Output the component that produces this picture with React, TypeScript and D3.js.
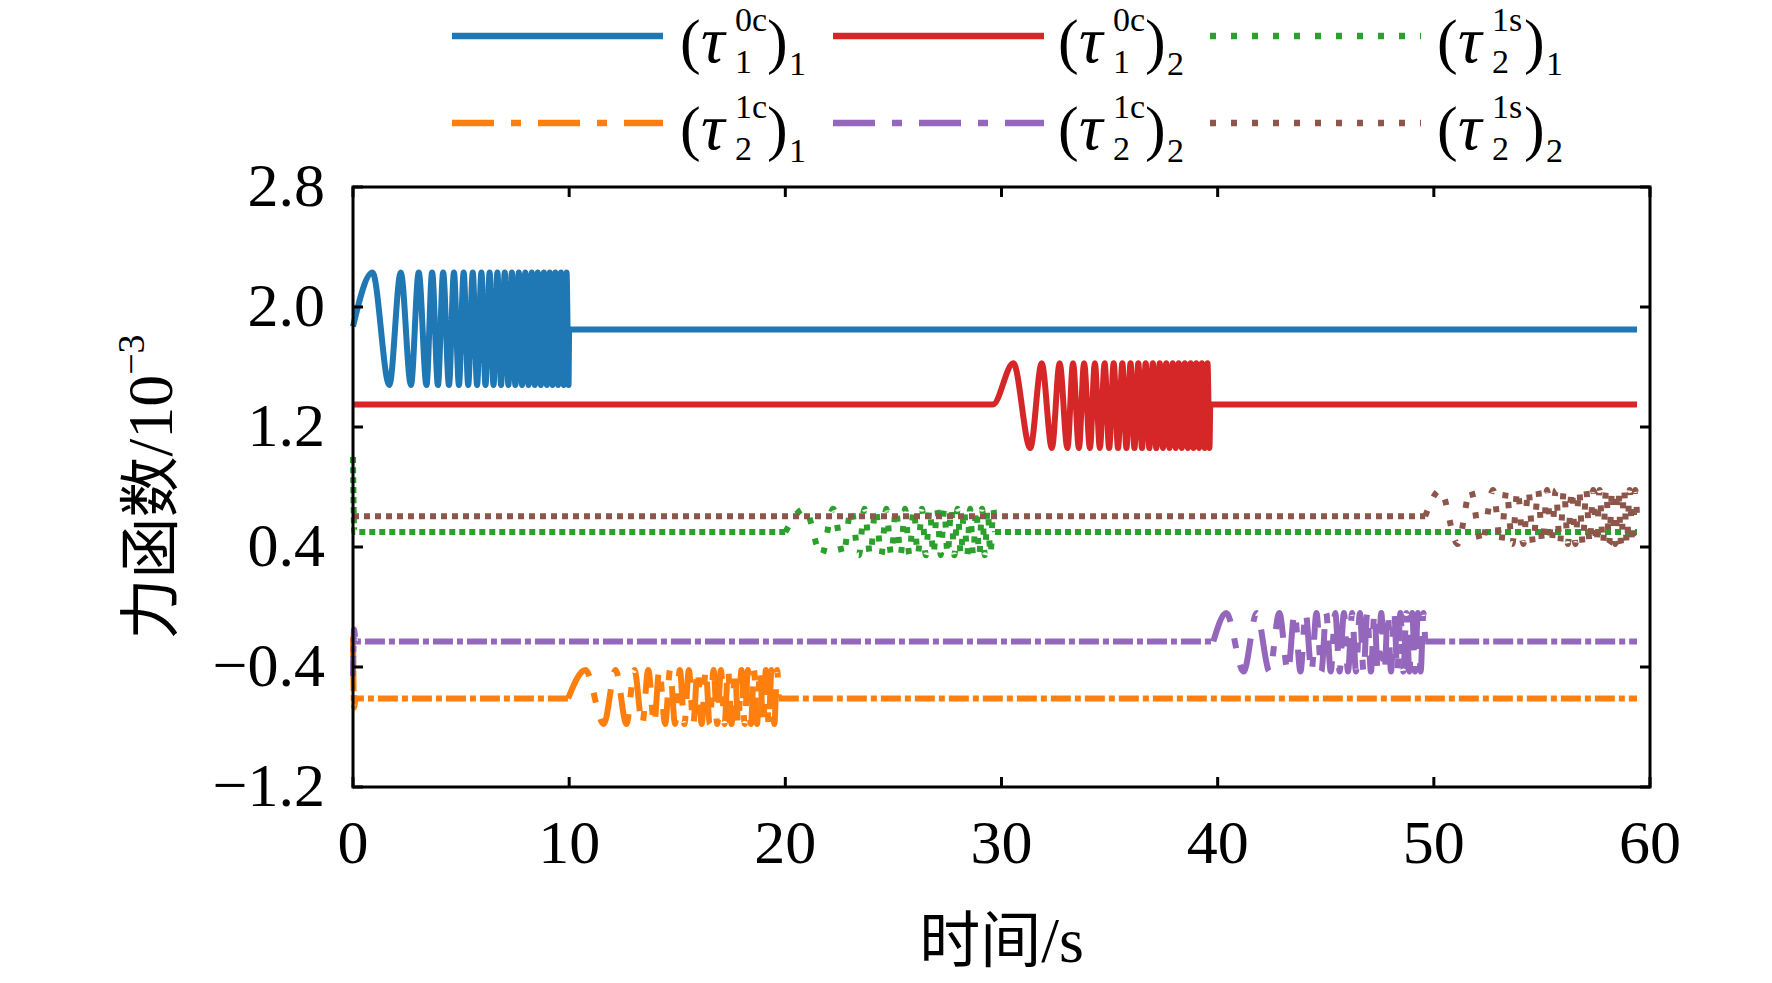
import { useMemo } from "react";
import * as d3 from "d3";

type Pt = [number, number];

const xTicks = [0, 10, 20, 30, 40, 50, 60];
const yTicks = [-1.2, -0.4, 0.4, 1.2, 2.0, 2.8];
const yTickLabels = ["\u22121.2", "\u22120.4", "0.4", "1.2", "2.0", "2.8"];

// (tau_1^0c)_1 : chirp 0-10 s
const blueData: Pt[] = [
  [0, 1.87], [0.9, 2.23], [1.68, 1.48], [2.21, 2.23], [2.68, 1.48], [3.04, 2.23], [3.4, 1.48],
  [3.66, 2.23], [3.93, 1.48], [4.17, 2.23], [4.44, 1.48], [4.67, 2.23], [4.9, 1.48], [5.12, 2.23],
  [5.33, 1.48], [5.54, 2.23], [5.74, 1.48], [5.94, 2.23], [6.13, 1.48], [6.32, 2.23], [6.5, 1.48],
  [6.68, 2.23], [6.85, 1.48], [7.02, 2.23], [7.19, 1.48], [7.35, 2.23], [7.51, 1.48], [7.67, 2.23],
  [7.82, 1.48], [7.97, 2.23], [8.12, 1.48], [8.27, 2.23], [8.41, 1.48], [8.55, 2.23], [8.69, 1.48],
  [8.83, 2.23], [8.97, 1.48], [9.1, 2.23], [9.23, 1.48], [9.36, 2.23], [9.49, 1.48], [9.62, 2.23],
  [9.75, 1.48], [9.88, 2.23], [9.97, 1.48], [10.0, 1.85], [59.4, 1.85],
];

// (tau_2^1c)_1 : chirp 10-20 s
const orangeData: Pt[] = [
  [0, -0.2], [0.05, -0.67], [0.12, -0.61], [9.95, -0.61], [10.75, -0.42], [11.6, -0.78],
  [12.15, -0.42], [12.65, -0.78], [13.02, -0.42], [13.38, -0.78], [13.66, -0.42], [13.93, -0.78],
  [14.17, -0.42], [14.44, -0.78], [14.67, -0.42], [14.9, -0.78], [15.12, -0.42], [15.33, -0.78],
  [15.54, -0.42], [15.74, -0.78], [15.94, -0.42], [16.13, -0.78], [16.32, -0.42], [16.5, -0.78],
  [16.68, -0.42], [16.85, -0.78], [17.02, -0.42], [17.19, -0.78], [17.35, -0.42], [17.51, -0.78],
  [17.67, -0.42], [17.82, -0.78], [17.97, -0.42], [18.12, -0.78], [18.27, -0.42], [18.41, -0.78],
  [18.55, -0.42], [18.69, -0.78], [18.83, -0.42], [18.97, -0.78], [19.1, -0.42], [19.23, -0.78],
  [19.36, -0.42], [19.49, -0.78], [19.62, -0.42], [19.7, -0.61], [59.4, -0.61],
];

// (tau_1^0c)_2 : chirp 30-40 s
const redData: Pt[] = [
  [0, 1.35], [29.6, 1.35], [30.55, 1.625], [31.33, 1.06], [31.86, 1.625], [32.33, 1.06],
  [32.69, 1.625], [33.05, 1.06], [33.31, 1.625], [33.58, 1.06], [33.82, 1.625], [34.09, 1.06],
  [34.32, 1.625], [34.55, 1.06], [34.77, 1.625], [34.98, 1.06], [35.19, 1.625], [35.39, 1.06],
  [35.59, 1.625], [35.78, 1.06], [35.97, 1.625], [36.15, 1.06], [36.33, 1.625], [36.5, 1.06],
  [36.67, 1.625], [36.84, 1.06], [37.0, 1.625], [37.16, 1.06], [37.32, 1.625], [37.47, 1.06],
  [37.62, 1.625], [37.77, 1.06], [37.92, 1.625], [38.06, 1.06], [38.2, 1.625], [38.34, 1.06],
  [38.48, 1.625], [38.62, 1.06], [38.75, 1.625], [38.88, 1.06], [39.01, 1.625], [39.14, 1.06],
  [39.27, 1.625], [39.4, 1.06], [39.53, 1.625], [39.62, 1.06], [39.66, 1.35], [59.4, 1.35],
];

// (tau_2^1c)_2 : chirp 40-50 s
const purpleData: Pt[] = [
  [0, -0.46], [0.05, -0.15], [0.12, -0.23], [39.8, -0.23], [40.4, -0.04], [41.2, -0.43],
  [41.8, -0.04], [42.4, -0.43], [42.85, -0.04], [43.25, -0.43], [43.56, -0.04], [43.83, -0.43],
  [44.07, -0.04], [44.34, -0.43], [44.57, -0.04], [44.8, -0.43], [45.02, -0.04], [45.23, -0.43],
  [45.44, -0.04], [45.64, -0.43], [45.84, -0.04], [46.03, -0.43], [46.22, -0.04], [46.4, -0.43],
  [46.58, -0.04], [46.75, -0.43], [46.92, -0.04], [47.09, -0.43], [47.25, -0.04], [47.41, -0.43],
  [47.57, -0.04], [47.72, -0.43], [47.87, -0.04], [48.02, -0.43], [48.17, -0.04], [48.31, -0.43],
  [48.45, -0.04], [48.59, -0.43], [48.73, -0.04], [48.87, -0.43], [49.0, -0.04], [49.13, -0.43],
  [49.26, -0.04], [49.39, -0.43], [49.52, -0.04], [49.6, -0.23], [59.4, -0.23],
];

// (tau_2^1s)_1 : chirp 20-30 s
const greenData: Pt[] = [
  [0, 1.0], [0.06, 0.5], [20.0, 0.5], [20.9, 0.655], [21.68, 0.345], [22.21, 0.655], [22.68, 0.345],
  [23.04, 0.655], [23.4, 0.345], [23.66, 0.655], [23.93, 0.345], [24.17, 0.655], [24.44, 0.345],
  [24.67, 0.655], [24.9, 0.345], [25.12, 0.655], [25.33, 0.345], [25.54, 0.655], [25.74, 0.345],
  [25.94, 0.655], [26.13, 0.345], [26.32, 0.655], [26.5, 0.345], [26.68, 0.655], [26.85, 0.345],
  [27.02, 0.655], [27.19, 0.345], [27.35, 0.655], [27.51, 0.345], [27.67, 0.655], [27.82, 0.345],
  [27.97, 0.655], [28.12, 0.345], [28.27, 0.655], [28.41, 0.345], [28.55, 0.655], [28.69, 0.345],
  [28.83, 0.655], [28.97, 0.345], [29.1, 0.655], [29.23, 0.345], [29.36, 0.655], [29.49, 0.345],
  [29.62, 0.655], [29.7, 0.5], [59.4, 0.5],
];

// (tau_2^1s)_2 : chirp 50-60 s
const brownData: Pt[] = [
  [0, 0.605], [49.6, 0.605], [50.3, 0.78], [51.1, 0.42], [51.7, 0.78], [52.2, 0.42], [52.74, 0.78],
  [53.1, 0.42], [53.36, 0.78], [53.63, 0.42], [53.87, 0.78], [54.14, 0.42], [54.37, 0.78],
  [54.6, 0.42], [54.82, 0.78], [55.03, 0.42], [55.24, 0.78], [55.44, 0.42], [55.64, 0.78],
  [55.83, 0.42], [56.02, 0.78], [56.2, 0.42], [56.38, 0.78], [56.55, 0.42], [56.72, 0.78],
  [56.89, 0.42], [57.05, 0.78], [57.21, 0.42], [57.37, 0.78], [57.52, 0.42], [57.67, 0.78],
  [57.82, 0.42], [57.97, 0.78], [58.11, 0.42], [58.25, 0.78], [58.39, 0.42], [58.53, 0.78],
  [58.67, 0.42], [58.8, 0.78], [58.93, 0.42], [59.06, 0.78], [59.19, 0.42], [59.32, 0.78],
  [59.4, 0.605],
];

const seriesNames = [
  { sup: "0c", sub: "1", outer: "1" },
  { sup: "1c", sub: "2", outer: "1" },
  { sup: "0c", sub: "1", outer: "2" },
  { sup: "1c", sub: "2", outer: "2" },
  { sup: "1s", sub: "2", outer: "1" },
  { sup: "1s", sub: "2", outer: "2" },
];
const seriesData = [blueData, orangeData, redData, purpleData, greenData, brownData];
// excitation window of each series, in seconds
const burstStart = [0, 9.95, 29.6, 39.8, 20.0, 49.6];
const burstEnd = [10.0, 19.7, 39.66, 49.6, 29.7, 59.4];
const seriesColors = ["#1f77b4", "#ff7f0e", "#d62728", "#9467bd", "#2ca02c", "#8c564b"];
const legendDash = [null, "42,17,10,17", null, "42,17,10,17", "6,15", "6,15"];
const quietDash = [null, "20,4,6,4", null, "20,4,6,4", "6,4", "6,5"];

const W = 1772;
const H = 983;
const plot = { left: 353, right: 1650, top: 187, bottom: 787 };
const serif = "'Liberation Serif', 'Times New Roman', serif";
const cjk = "'Noto Sans CJK SC', 'Liberation Serif', serif";

function LegendLabel({ x, y, sup, sub, outer }: { x: number; y: number; sup: string; sub: string; outer: string }) {
  return (
    <g fontFamily={serif} fill="#000">
      <text x={x} y={y} fontSize={62}>(</text>
      <text x={x + 21} y={y} fontSize={66} fontStyle="italic">τ</text>
      <text x={x + 55} y={y - 31} fontSize={34}>{sup}</text>
      <text x={x + 55} y={y + 11} fontSize={34}>{sub}</text>
      <text x={x + 87} y={y} fontSize={62}>)</text>
      <text x={x + 109} y={y + 13} fontSize={34}>{outer}</text>
    </g>
  );
}

export default function App() {
  const x = useMemo(() => d3.scaleLinear().domain([0, 60]).range([plot.left, plot.right]), []);
  const y = useMemo(() => d3.scaleLinear().domain([-1.2, 2.8]).range([plot.bottom, plot.top]), []);
  const line = d3
    .line<Pt>()
    .x((d) => x(d[0]))
    .y((d) => y(d[1]))
    .curve(d3.curveMonotoneX);

  const tickLen = 10;
  const legendCols = [452, 833, 1210];
  const labelCols = [680, 1058, 1437];
  const legendRows = [36, 123];
  const labelRows = [62, 149];

  return (
    <svg
      width={W}
      height={H}
      viewBox={`0 0 ${W} ${H}`}
      style={{ position: "absolute", left: 0, top: 0, background: "#fff" }}
    >
      <rect width={W} height={H} fill="#fff" />

      {/* series: quiet parts with tight dashes, excitation bursts with the legend dash */}
      {seriesData.map((data, i) => {
        const s = burstStart[i];
        const e = burstEnd[i];
        const before = data.filter((d) => d[0] <= s);
        const burst = data.filter((d) => d[0] >= s && d[0] <= e);
        const after = data.filter((d) => d[0] >= e);
        if (legendDash[i] == null) {
          return (
            <path
              key={i}
              d={line(data) ?? ""}
              fill="none"
              stroke={seriesColors[i]}
              strokeWidth={6}
              strokeLinejoin="round"
            />
          );
        }
        return (
          <g key={i} fill="none" stroke={seriesColors[i]} strokeWidth={6}>
            {before.length > 1 && <path d={line(before) ?? ""} strokeDasharray={quietDash[i] ?? undefined} />}
            <path d={line(burst) ?? ""} strokeDasharray={legendDash[i] ?? undefined} />
            {after.length > 1 && <path d={line(after) ?? ""} strokeDasharray={quietDash[i] ?? undefined} />}
          </g>
        );
      })}

      {/* frame */}
      <rect
        x={plot.left}
        y={plot.top}
        width={plot.right - plot.left}
        height={plot.bottom - plot.top}
        fill="none"
        stroke="#000"
        strokeWidth={3}
      />

      {/* x ticks */}
      {xTicks.map((t) => (
        <g key={`x${t}`}>
          <line x1={x(t)} x2={x(t)} y1={plot.bottom} y2={plot.bottom - tickLen} stroke="#000" strokeWidth={3} />
          <line x1={x(t)} x2={x(t)} y1={plot.top} y2={plot.top + tickLen} stroke="#000" strokeWidth={3} />
          <text x={x(t)} y={863} textAnchor="middle" fontFamily={serif} fontSize={62}>
            {t}
          </text>
        </g>
      ))}

      {/* y ticks */}
      {yTicks.map((t, i) => (
        <g key={`y${t}`}>
          <line x1={plot.left} x2={plot.left + tickLen} y1={y(t)} y2={y(t)} stroke="#000" strokeWidth={3} />
          <line x1={plot.right} x2={plot.right - tickLen} y1={y(t)} y2={y(t)} stroke="#000" strokeWidth={3} />
          <text x={plot.left - 28} y={y(t)} dy="0.3em" textAnchor="end" fontFamily={serif} fontSize={62}>
            {yTickLabels[i]}
          </text>
        </g>
      ))}

      {/* axis titles */}
      <text x={(plot.left + plot.right) / 2} y={962} textAnchor="middle" fontFamily={cjk} fontSize={61}>
        时间<tspan fontFamily={serif} fontSize={64}>/s</tspan>
      </text>
      <text
        transform={`translate(172, ${(plot.top + plot.bottom) / 2}) rotate(-90)`}
        textAnchor="middle"
        fontFamily={cjk}
        fontSize={61}
      >
        力函数
        <tspan fontFamily={serif} fontSize={64}>/10</tspan>
        <tspan fontFamily={serif} fontSize={38} dy={-28}>−3</tspan>
      </text>

      {/* legend */}
      {seriesNames.map((s, i) => {
        const col = Math.floor(i / 2);
        const row = i % 2;
        return (
          <g key={`leg${i}`}>
            <line
              x1={legendCols[col]}
              x2={legendCols[col] + 211}
              y1={legendRows[row]}
              y2={legendRows[row]}
              stroke={seriesColors[i]}
              strokeWidth={6.5}
              strokeDasharray={legendDash[i] ?? undefined}
            />
            <LegendLabel x={labelCols[col]} y={labelRows[row]} sup={s.sup} sub={s.sub} outer={s.outer} />
          </g>
        );
      })}
    </svg>
  );
}
